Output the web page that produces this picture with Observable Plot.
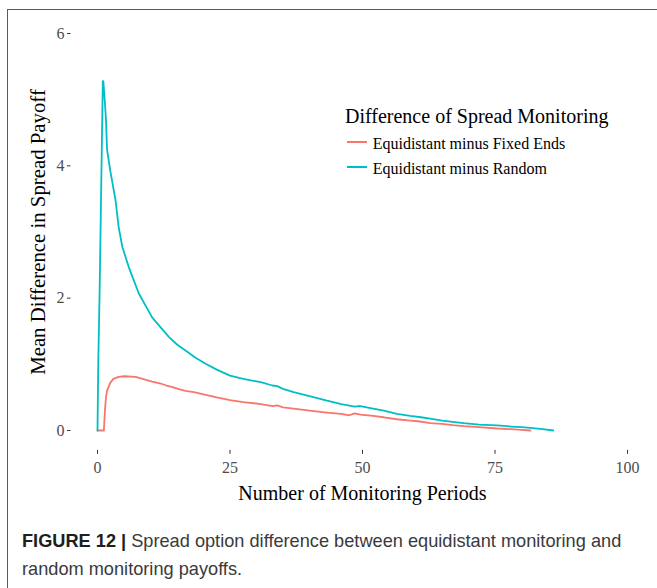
<!DOCTYPE html>
<html>
<head>
<meta charset="utf-8">
<script src="https://cdn.jsdelivr.net/npm/d3@7"></script>
<script src="https://cdn.jsdelivr.net/npm/@observablehq/plot@0.6"></script>
<style>
  html, body { margin: 0; padding: 0; background: #fff; }
  #page { position: relative; width: 657px; height: 588px; overflow: hidden; background: #fff; }
  #frameL { position: absolute; left: 7px; top: 8.5px; width: 1.3px; height: 600px; background: #5a5a5a; }
  #frameT { position: absolute; left: 7px; top: 8.5px; width: 660px; height: 1.3px; background: #5a5a5a; }
  #chart { position: absolute; left: 0; top: 0; }
  #chart g[aria-label="x-axis label"] text { font-size: 20px; fill: #000; }
  #chart g[aria-label="y-axis label"] text { font-size: 20.8px; fill: #000; }
  .legend { position: absolute; font-family: "Liberation Serif", "Times New Roman", serif; color: #000; white-space: nowrap; }
  .legend .title { position: absolute; left: 345px; top: 106.3px; font-size: 20px; line-height: 20px; }
  .legend .item { position: absolute; left: 372.7px; font-size: 16px; line-height: 16px; }
  .legend .key { position: absolute; left: 347px; width: 20px; height: 1.8px; }
  #caption { position: absolute; left: 22px; top: 527px; font-family: "Liberation Sans", Arial, sans-serif; font-size: 18.2px; line-height: 28px; color: #3a3a3a; white-space: nowrap; }
  #caption b { color: #1e1e1e; }
</style>
</head>
<body>
<div id="page">
  <div id="frameL"></div>
  <div id="frameT"></div>
  <div id="chart"></div>
  <div class="legend" id="legend"></div>
  <div id="caption"><b>FIGURE 12 |</b> Spread option difference between equidistant monitoring and<br>random monitoring payoffs.</div>
</div>
<script>
// ---- data ----
const seriesNames = ["Equidistant minus Fixed Ends", "Equidistant minus Random"];
const seriesColors = ["#F8766D", "#00BFC4"];
const legendTitle = "Difference of Spread Monitoring";
const xTitle = "Number of Monitoring Periods";
const yTitle = "Mean Difference in Spread Payoff";
const xTicks = [0, 25, 50, 75, 100];
const yTicks = [0, 2, 4, 6];

const periodsFixed = [0, 1.2, 1.4, 1.6, 1.8, 2.4, 3.0, 4.0, 5.0, 7.2, 8.0, 9.0, 10.3, 11.9, 13.0, 14.0, 15.5, 16.6, 18.2, 20.4, 22.5, 25.0, 27.5, 30.8, 33.0, 33.9, 35.0, 37.0, 40.0, 43.3, 46.0, 47.5, 48.5, 49.6, 52.0, 54.0, 56.5, 59.0, 60.5, 62.8, 65.0, 67.0, 69.1, 72.0, 75.4, 78.0, 80.0, 81.7];
const valuesFixed  = [0, 0, 0.30, 0.50, 0.60, 0.72, 0.78, 0.81, 0.82, 0.81, 0.79, 0.77, 0.74, 0.71, 0.68, 0.66, 0.62, 0.60, 0.58, 0.54, 0.50, 0.46, 0.43, 0.40, 0.37, 0.38, 0.35, 0.33, 0.30, 0.27, 0.25, 0.23, 0.26, 0.24, 0.22, 0.20, 0.17, 0.15, 0.14, 0.11, 0.10, 0.08, 0.065, 0.05, 0.03, 0.02, 0.01, 0.0];

const periodsRandom = [0, 0.15, 0.4, 0.6, 0.8, 1.0, 1.1, 1.4, 1.6, 1.8, 2.4, 3.4, 4.0, 4.7, 5.9, 7.8, 10.3, 12.0, 13.5, 15.0, 16.6, 18.5, 20.4, 22.5, 25.0, 27.5, 30.8, 33.0, 33.9, 35.0, 37.0, 40.0, 43.3, 46.0, 48.5, 49.6, 52.0, 54.0, 56.5, 59.0, 61.0, 62.8, 65.0, 67.0, 69.1, 72.0, 75.4, 78.0, 80.0, 81.7, 84.0, 86.0];
const valuesRandom  = [0, 1.05, 2.10, 3.15, 4.20, 5.28, 5.28, 4.95, 4.70, 4.25, 3.93, 3.48, 3.07, 2.77, 2.47, 2.07, 1.71, 1.55, 1.41, 1.30, 1.21, 1.10, 1.01, 0.92, 0.83, 0.78, 0.73, 0.68, 0.67, 0.63, 0.58, 0.52, 0.45, 0.40, 0.36, 0.37, 0.33, 0.30, 0.25, 0.22, 0.20, 0.18, 0.15, 0.13, 0.11, 0.09, 0.076, 0.06, 0.05, 0.04, 0.02, 0.0];

// ---- table for the library ----
const data = [
  ...periodsFixed.map((p, i) => ({period: p, value: valuesFixed[i], series: seriesNames[0]})),
  ...periodsRandom.map((p, i) => ({period: p, value: valuesRandom[i], series: seriesNames[1]}))
];

const chart = Plot.plot({
  width: 657,
  height: 500,
  marginLeft: 70.5,
  marginRight: 3.5,
  marginTop: 13.15,
  marginBottom: 50.15,
  style: {fontFamily: "'Liberation Serif', 'Times New Roman', serif", fontSize: "16px", background: "transparent", overflow: "visible"},
  x: {domain: [-5, 105]},
  y: {domain: [-0.3, 6.3]},
  color: {domain: seriesNames, range: seriesColors},
  marks: [
    Plot.axisY({ticks: yTicks, tickFormat: d3.format("d"), tickSize: 3.5, tickPadding: 3, stroke: "#333", fill: "#4d4d4d",
      label: yTitle, labelAnchor: "center", labelArrow: "none", labelOffset: 40.7}),
    Plot.axisX({ticks: xTicks, tickFormat: d3.format("d"), tickSize: 4, tickPadding: 7, stroke: "#333", fill: "#4d4d4d",
      label: xTitle, labelAnchor: "center", labelArrow: "none", labelOffset: 50}),
    Plot.line(data, {x: "period", y: "value", z: "series", stroke: "series", strokeWidth: 1.8, curve: "linear"})
  ]
});
document.getElementById("chart").appendChild(chart);

// ---- legend (HTML) ----
const legend = document.getElementById("legend");
const t = document.createElement("div");
t.className = "title";
t.textContent = legendTitle;
legend.appendChild(t);
const itemTops = [135.6, 160.6];
const keyTops = [140.8, 165.8];
seriesNames.forEach((name, i) => {
  const k = document.createElement("div");
  k.className = "key";
  k.style.top = keyTops[i] + "px";
  k.style.background = seriesColors[i];
  legend.appendChild(k);
  const it = document.createElement("div");
  it.className = "item";
  it.style.top = itemTops[i] + "px";
  it.textContent = name;
  legend.appendChild(it);
});
</script>
</body>
</html>
